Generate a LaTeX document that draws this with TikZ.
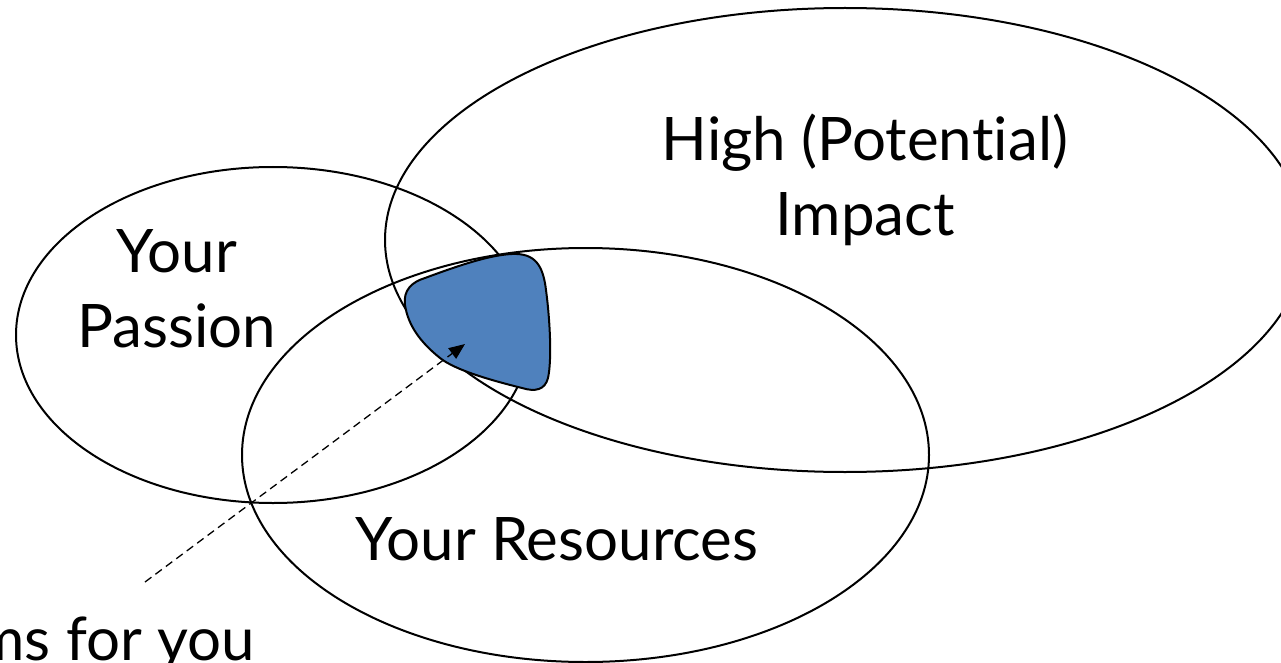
\documentclass[tikz,border=0pt]{standalone}
\usepackage{fontspec}
\setmainfont{Lato}[Ligatures={NoCommon}]
\usetikzlibrary{shapes.geometric,arrows.meta}
\definecolor{blobblue}{RGB}{79,129,189}
\tikzset{
  venn/.style={ellipse, draw=black, line width=2pt, inner sep=0pt},
  lbl/.style={font=\fontsize{60}{75}\selectfont, align=center, inner sep=0pt},
  pointer/.style={draw=black, line width=1.3pt, dash pattern=on 8pt off 5pt, -{Triangle[length=16pt, width=13pt]}},
  blobstyle/.style={fill=blobblue, draw=black, line width=2pt, line join=round}
}
\begin{document}
\begin{tikzpicture}[x=1pt, y=-1pt]
\useasboundingbox (0,0) rectangle (1281,663);
\clip (0,0) rectangle (1281,663);
\node[venn, minimum width=920pt, minimum height=464pt] (impact) at (845,240) {};
\node[venn, minimum width=514pt, minimum height=336pt] (passion) at (273,335) {};
\node[venn, minimum width=687pt, minimum height=414pt] (resources) at (585.5,455) {};
\path[blobstyle] (425,278) .. controls (460,265) and (490,255) .. (512,254)
  .. controls (535,253) and (543,265) .. (546,290)
  .. controls (550,320) and (552,360) .. (548,378)
  .. controls (545,390) and (535,392) .. (522,388)
  .. controls (490,380) and (455,370) .. (440,358)
  .. controls (420,342) and (408,325) .. (405,305)
  .. controls (403,290) and (412,282) .. (425,278) -- cycle;
\coordinate (tail) at (145,582);
\coordinate (tip) at (465,344);
\draw[pointer] (tail) -- (tip);
\node[lbl, anchor=base] (passiontxt) at (177,347) {Your\\Passion};
\node[lbl, anchor=base] (impacttxt) at (865,235) {High (Poten\kern0pt tial)\\Impact};
\node[lbl, anchor=base] (restxt) at (557,560) {Your Resources};
\node[lbl, anchor=base east] (besttxt) at (255,660) {ms for you};
\end{tikzpicture}
\end{document}
